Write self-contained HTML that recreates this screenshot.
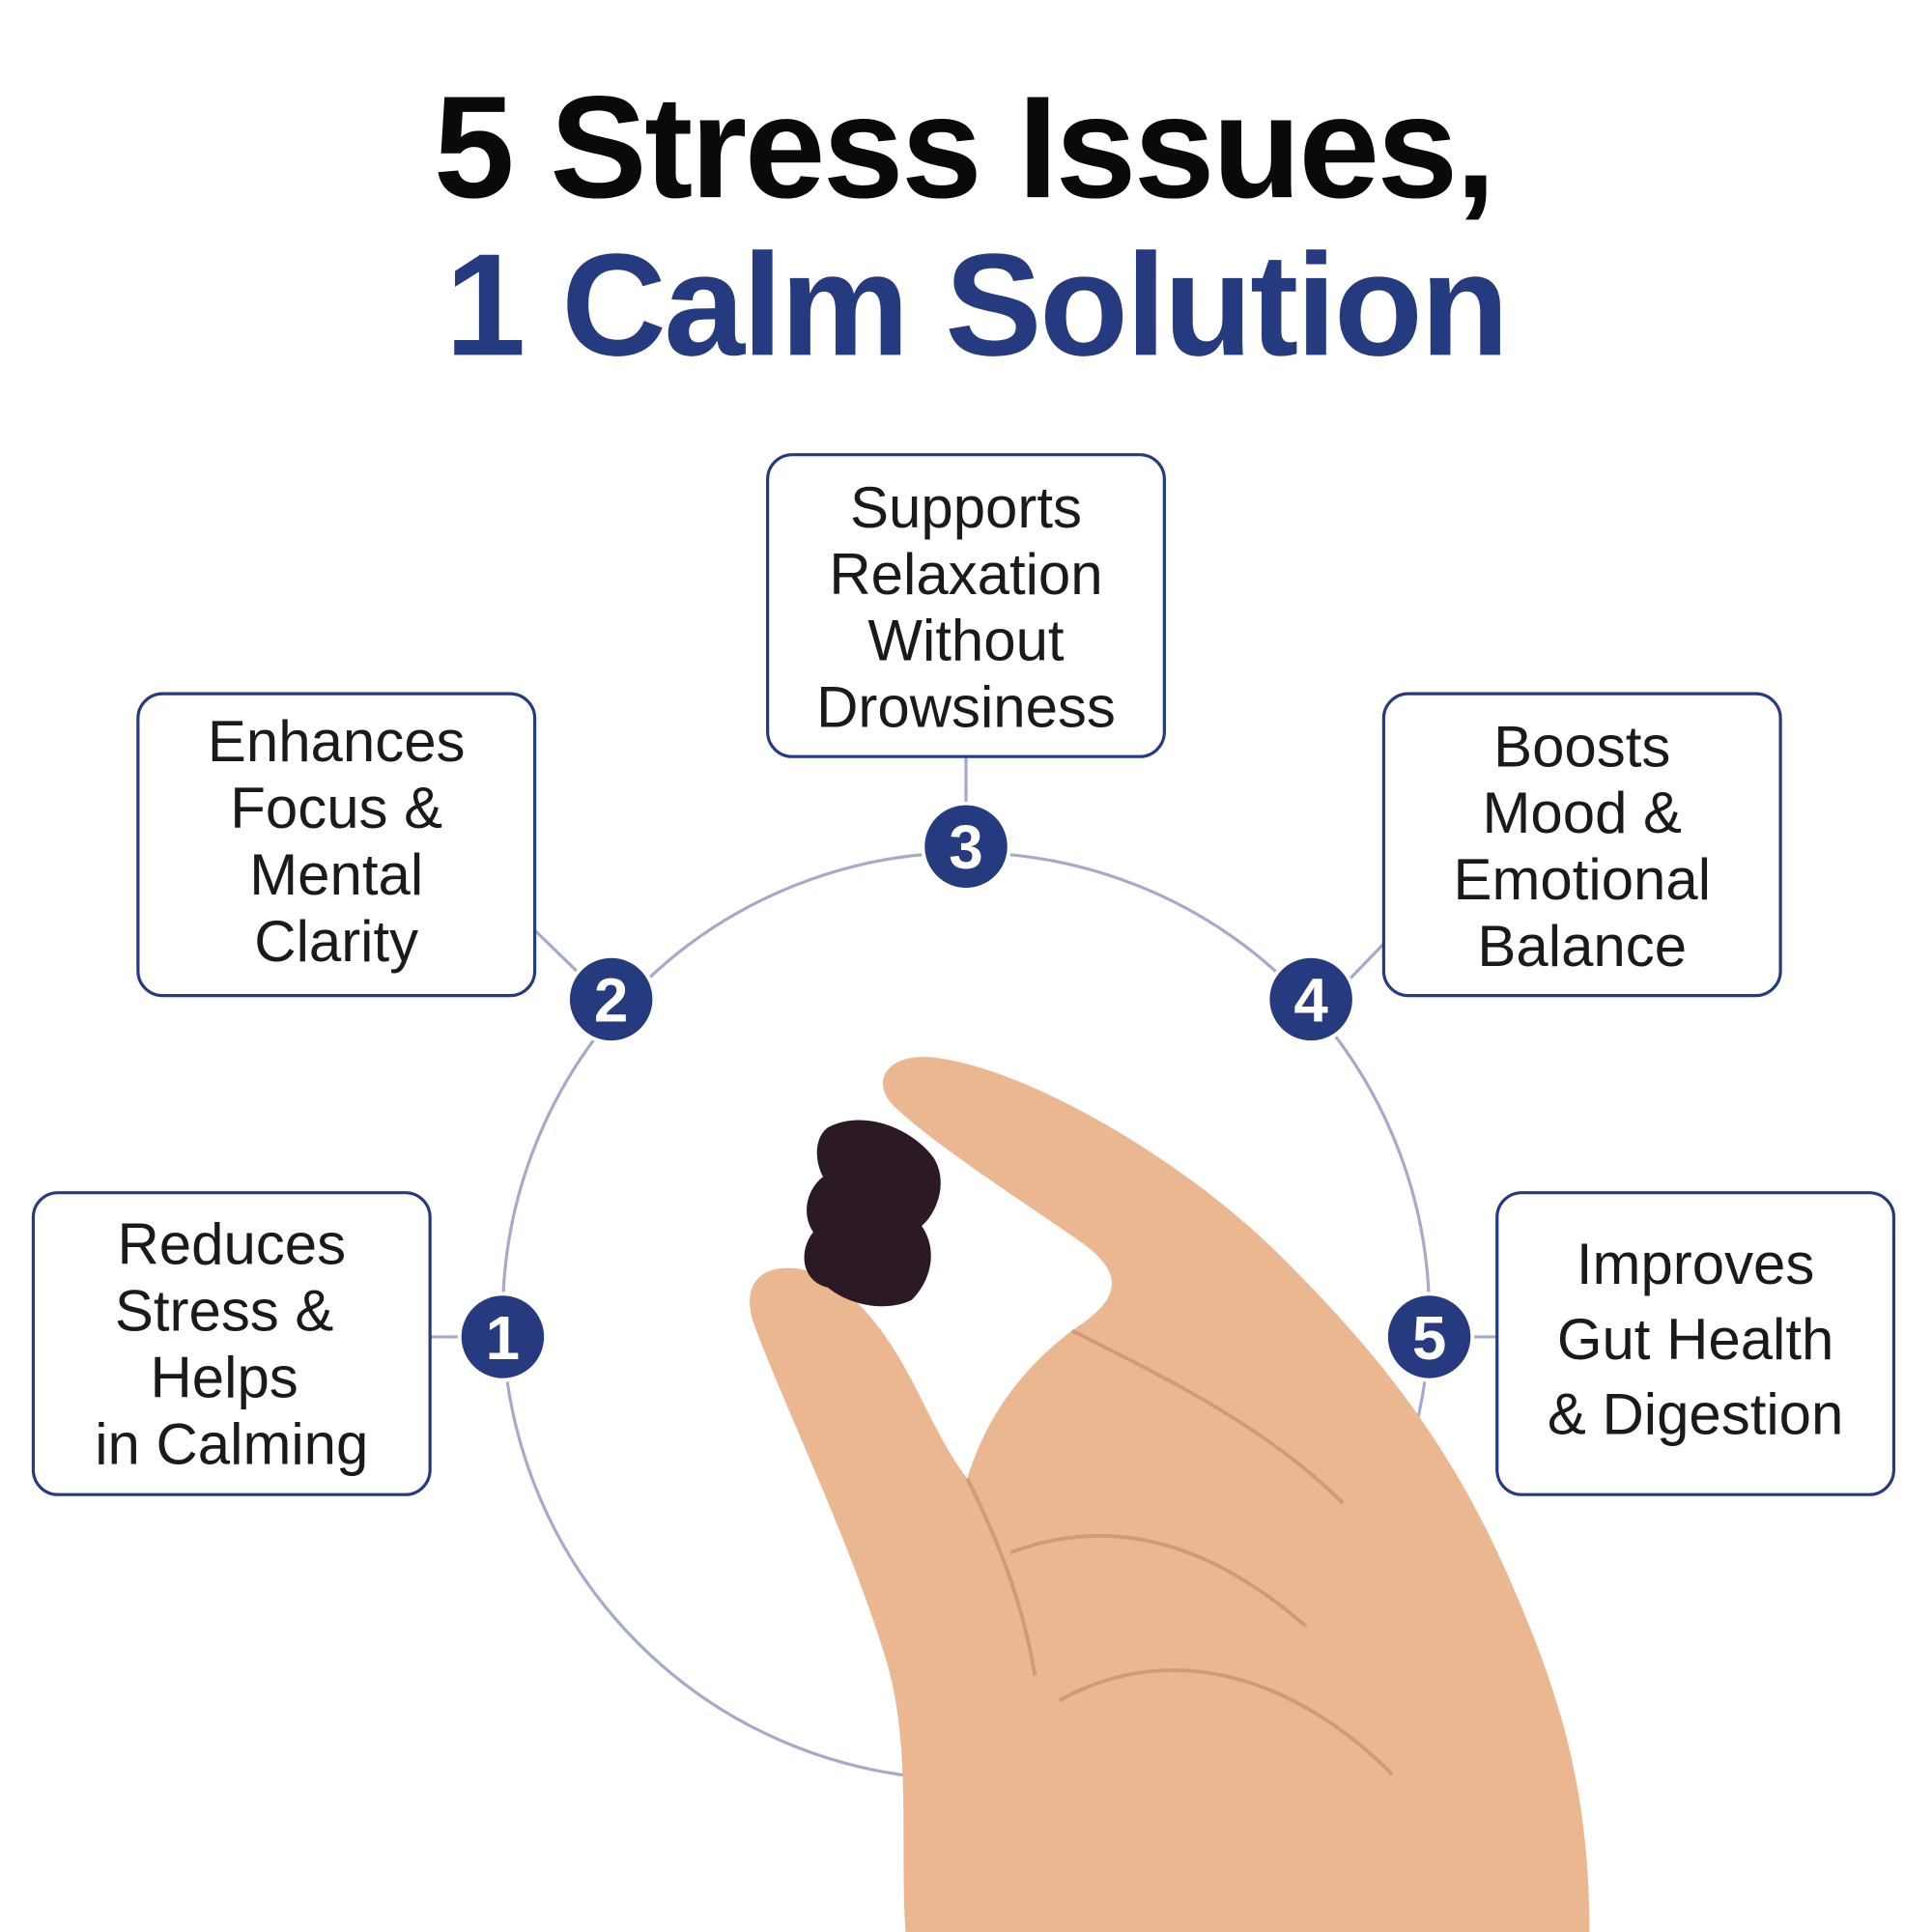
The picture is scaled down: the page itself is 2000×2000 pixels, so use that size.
<!DOCTYPE html>
<html><head><meta charset="utf-8"><style>
html,body{margin:0;padding:0;background:#fff;width:2000px;height:2000px;overflow:hidden}
svg{display:block}
</style></head><body>
<svg width="2000" height="2000" viewBox="0 0 1568 1568" xmlns="http://www.w3.org/2000/svg">
<rect width="1568" height="1568" fill="#fff"/>
<g font-family="Liberation Sans, Arial, sans-serif" font-weight="bold" text-anchor="middle">
<text x="782" y="160" font-size="118" fill="#0a0a0a" letter-spacing="-2">5 Stress Issues,</text>
<text x="792" y="288" font-size="118" fill="#263a80" letter-spacing="-2">1 Calm Solution</text>
</g>
<!-- circle -->
<circle cx="784" cy="1068" r="376" fill="none" stroke="#a3abc8" stroke-width="2.5"/>
<!-- connectors -->
<g stroke="#a3abc8" stroke-width="2.5">
<line x1="349" y1="1085" x2="374" y2="1085"/>
<line x1="434" y1="755" x2="470" y2="790"/>
<line x1="784" y1="614" x2="784" y2="652"/>
<line x1="1123" y1="766" x2="1095" y2="795"/>
<line x1="1194" y1="1085" x2="1215" y2="1085"/>
</g>
<!-- hand -->
<g fill="#eab791">
<path d="M735 1568 C730 1500 740 1420 720 1350 C690 1250 640 1150 612 1075 C600 1040 620 1025 650 1030 C690 1040 720 1080 745 1130 C760 1160 770 1180 785 1200 C800 1150 830 1110 870 1080 C900 1060 920 1040 880 1010 C830 975 760 930 728 900 C705 880 718 855 755 858 C830 865 960 940 1040 1020 C1110 1090 1170 1160 1220 1270 C1260 1360 1290 1440 1290 1568 Z"/>
</g>
<g fill="none" stroke="#c98d6a" stroke-width="3" opacity="0.7">
<path d="M785 1200 C810 1250 830 1300 840 1360"/>
<path d="M870 1080 C950 1120 1030 1160 1090 1220"/>
<path d="M820 1260 C900 1230 980 1250 1060 1320"/>
<path d="M860 1380 C950 1330 1050 1360 1130 1440"/>
</g>
<!-- gummy -->
<path d="M672 915 C700 900 740 915 758 940 C770 960 760 985 748 995 C762 1015 755 1040 740 1055 C720 1065 690 1060 672 1045 C650 1040 648 1015 660 1000 C650 985 655 965 668 955 C660 940 662 922 672 915 Z" fill="#2b1a25"/>
<!-- nodes -->
<g fill="#263a80" stroke="#fff" stroke-width="3">
<circle cx="408" cy="1085" r="35"/>
<circle cx="496" cy="811" r="35"/>
<circle cx="784" cy="687" r="35"/>
<circle cx="1064" cy="811" r="35"/>
<circle cx="1160" cy="1085" r="35"/>
</g>
<g font-family="Liberation Sans, Arial, sans-serif" font-weight="bold" font-size="50" fill="#fff" text-anchor="middle">
<text x="408" y="1103">1</text>
<text x="496" y="829">2</text>
<text x="784" y="705">3</text>
<text x="1064" y="829">4</text>
<text x="1160" y="1103">5</text>
</g>
<!-- boxes -->
<g fill="#fff" stroke="#263a80" stroke-width="2.5">
<rect x="27" y="968" width="322" height="245" rx="20"/>
<rect x="112" y="563" width="322" height="245" rx="20"/>
<rect x="623" y="369" width="322" height="245" rx="20"/>
<rect x="1123" y="563" width="322" height="245" rx="20"/>
<rect x="1215" y="968" width="322" height="245" rx="20"/>
</g>
<g font-family="Liberation Sans, Arial, sans-serif" font-size="47" fill="#1a1a1a" text-anchor="middle">
<text x="188" y="1026">Reduces</text>
<text x="182" y="1080">Stress &amp;</text>
<text x="182" y="1134">Helps</text>
<text x="188" y="1188">in Calming</text>
<text x="273" y="618">Enhances</text>
<text x="273" y="672">Focus &amp;</text>
<text x="273" y="726">Mental</text>
<text x="273" y="780">Clarity</text>
<text x="784" y="428">Supports</text>
<text x="784" y="482">Relaxation</text>
<text x="784" y="536">Without</text>
<text x="784" y="590">Drowsiness</text>
<text x="1284" y="622">Boosts</text>
<text x="1284" y="676">Mood &amp;</text>
<text x="1284" y="730">Emotional</text>
<text x="1284" y="784">Balance</text>
<text x="1376" y="1042">Improves</text>
<text x="1376" y="1103">Gut Health</text>
<text x="1376" y="1164">&amp; Digestion</text>
</g>
</svg>
</body></html>
